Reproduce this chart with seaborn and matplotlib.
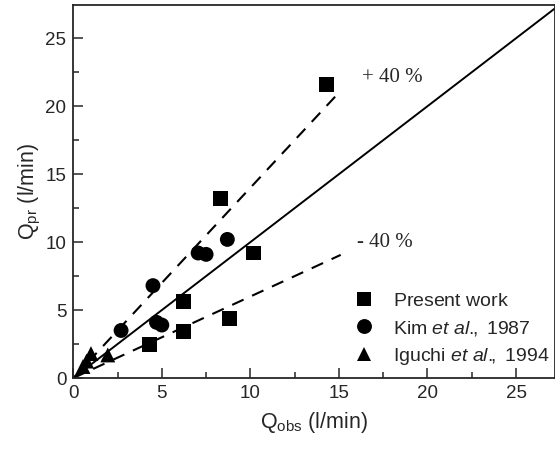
import matplotlib
matplotlib.use("Agg")
import matplotlib.pyplot as plt
import seaborn as sns
import numpy as np
import pandas as pd

# Data
present_obs = [14.3, 8.3, 10.2, 6.2, 6.2, 8.8, 4.3]
present_pr = [21.6, 13.2, 9.2, 5.6, 3.4, 4.35, 2.45]
kim_obs = [8.7, 7.05, 7.5, 4.5, 2.7, 4.7, 5.0]
kim_pr = [10.2, 9.2, 9.1, 6.8, 3.5, 4.1, 3.9]
iguchi_obs = [1.0, 1.95, 0.75, 0.55]
iguchi_pr = [1.8, 1.7, 1.25, 0.85]
series_names = [r"$\mathrm{Present\ work}$",
                r"$\mathrm{Kim}\ \mathit{et\ al.}\!\!\mathrm{,\ 1987}$",
                r"$\mathrm{Iguchi}\ \mathit{et\ al.}\!\!\mathrm{,\ 1994}$"]
line_x = [0, 30]
dash_x = [0, 15.1]
upper_factor = 1.4
lower_factor = 0.6

df = pd.concat([
    pd.DataFrame({"obs": present_obs, "pr": present_pr, "src": series_names[0]}),
    pd.DataFrame({"obs": kim_obs, "pr": kim_pr, "src": series_names[1]}),
    pd.DataFrame({"obs": iguchi_obs, "pr": iguchi_pr, "src": series_names[2]}),
])

sns.set_style("ticks")
plt.rcParams['font.family'] = ['Liberation Sans', 'DejaVu Sans']
plt.rcParams['mathtext.fontset'] = 'custom'
plt.rcParams['mathtext.rm'] = 'Liberation Sans'
plt.rcParams['mathtext.it'] = 'Liberation Sans:italic'

fig = plt.figure(figsize=(5.55, 4.49), dpi=100)
ax = fig.add_axes([0.132, 0.158, 0.868, 0.831])

ax.plot(line_x, line_x, color="black", lw=1.4, zorder=1)
ax.plot(dash_x, [v * upper_factor for v in dash_x], color="black", lw=1.5, ls=(0, (6, 4.5)), zorder=1)
ax.plot(dash_x, [v * lower_factor for v in dash_x], color="black", lw=1.5, ls=(0, (6, 4.5)), zorder=1)

sns.scatterplot(data=df, x="obs", y="pr", style="src", hue="src",
                palette=["black"] * 3, markers=["s", "o", "^"],
                s=115, edgecolor="black", linewidth=0, ax=ax, zorder=3)

ax.set_xlim(0, 27.2)
ax.set_ylim(0, 27.45)
ax.set_xticks([0, 5, 10, 15, 20, 25])
ax.set_yticks([0, 5, 10, 15, 20, 25])
ax.set_xticks(np.arange(2.5, 27.2, 5), minor=True)
ax.set_yticks(np.arange(2.5, 27.45, 5), minor=True)
ax.tick_params(axis="both", which="major", direction="in", length=7, width=1.1, labelsize=13.5, pad=5)
ax.tick_params(axis="both", which="minor", direction="in", length=4, width=1.1)
for sp in ax.spines.values():
    sp.set_linewidth(1.3)

ax.set_xlabel(r"Q$_{\rm obs}$ (l/min)", fontsize=15.5, labelpad=6)
ax.set_ylabel(r"Q$_{\rm pr}$ (l/min)", fontsize=15.5, labelpad=2)

ax.text(16.3, 22.1, "+ 40 %", fontsize=15, family="Liberation Serif", va="center")
ax.text(16.0, 10.0, "- 40 %", fontsize=15, family="Liberation Serif", va="center")

leg = ax.legend(loc="lower right", bbox_to_anchor=(1.025, -0.018), frameon=False,
                fontsize=14, handletextpad=0.5, labelspacing=0.45, markerscale=1.0)

fig.savefig("out.png", dpi=100)
